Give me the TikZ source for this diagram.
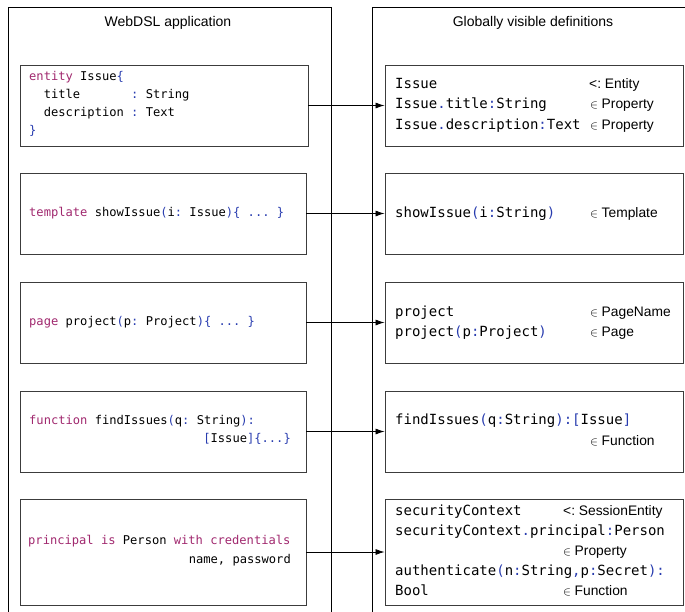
\documentclass[tikz,border=0pt]{standalone}
\usepackage{fontspec}
\setmainfont{Liberation Sans}
\newfontfamily\lmono{DejaVu Sans Mono}
\usetikzlibrary{arrows.meta}
\definecolor{kwc}{RGB}{160,40,110}
\definecolor{pnc}{RGB}{40,60,175}
\definecolor{boxc}{RGB}{60,60,60}
\newcommand{\kw}[1]{\textcolor{kwc}{#1}}
\newcommand{\pn}[1]{\textcolor{pnc}{#1}}
\newcommand{\elm}{{\fontsize{11.5}{11.5}\selectfont$\in$}\hspace{3.5pt}}
\newcommand{\msp}[1]{\hphantom{#1}}
\frenchspacing
\tikzset{
  frame/.style={draw=black, line width=0.8pt},
  box/.style={draw=boxc, line width=0.9pt, inner sep=0pt},
  lcode/.style={font=\lmono\fontsize{12.1}{14}\selectfont\frenchspacing, inner sep=0pt, anchor=base west},
  rcode/.style={font=\lmono\fontsize{14}{16}\selectfont, inner sep=0pt, anchor=base west},
  cat/.style={font=\fontsize{13.8}{16}\selectfont, inner sep=0pt, anchor=base west},
  ttl/.style={font=\fontsize{14}{16}\selectfont, inner sep=0pt, anchor=base},
  conn/.style={draw=black, line width=0.8pt, -{Latex[length=9pt,width=6pt]}}
}
\begin{document}
\begin{tikzpicture}[x=1pt,y=-1pt]
\useasboundingbox (0,0) rectangle (685,611);
\clip (0,0) rectangle (685,611);
% outer frames
\draw[frame] (8,615) -- (8,7) -- (331,7) -- (331,615);
\draw[frame] (690,7) -- (372,7) -- (372,615);
\node[ttl] (tl) at (168,26.5) {WebDSL application};
\node[ttl] (tr) at (533,26.5) {Globally visible definitions};
% left boxes
\node[box, minimum width=288, minimum height=81] (lb1) at (164,105.5) {};
\node[box, minimum width=286, minimum height=81] (lb2) at (163,213.5) {};
\node[box, minimum width=286, minimum height=81] (lb3) at (163,322.5) {};
\node[box, minimum width=286, minimum height=81] (lb4) at (163,431.5) {};
\node[box, minimum width=286, minimum height=106] (lb5) at (163,552) {};
% right boxes
\node[box, minimum width=298, minimum height=81] (rb1) at (534,105.5) {};
\node[box, minimum width=298, minimum height=81] (rb2) at (534,213.5) {};
\node[box, minimum width=298, minimum height=81] (rb3) at (534,322.5) {};
\node[box, minimum width=298, minimum height=81] (rb4) at (534,431.5) {};
\node[box, minimum width=298, minimum height=106] (rb5) at (534,552) {};
% left code
\node[lcode] (t11) at (29,80) {\kw{entity} Issue\pn{\{}};
\node[lcode] (t12) at (29,98) {\msp{xx}title\msp{xxxxxxx}\pn{:} String};
\node[lcode] (t13) at (29,116) {\msp{xx}description \pn{:} Text};
\node[lcode] (t14) at (29,134) {\pn{\}}};
\node[lcode] (t2) at (29,216) {\kw{template} showIssue\pn{(}i\pn{:} Issue\pn{)\{ ... \}}};
\node[lcode] (t3) at (29,325) {\kw{page} project\pn{(}p\pn{:} Project\pn{)\{ ... \}}};
\node[lcode] (t41) at (29,424) {\kw{function} findIssues\pn{(}q\pn{:} String\pn{):}};
\node[lcode, anchor=base east] (t42) at (291,442) {\pn{[}Issue\pn{]\{...\}}};
\node[lcode] (t51) at (28,544) {\kw{principal is} Person \kw{with credentials}};
\node[lcode, anchor=base east] (t52) at (291,563) {name, password};
% right code
\node[rcode] (r11) at (395,88) {Issue};
\node[cat] (c11) at (589,88) {<: Entity};
\node[rcode] (r12) at (395,108.5) {Issue\pn{.}title\pn{:}String};
\node[cat] (c12) at (590,108.5) {\elm Property};
\node[rcode] (r13) at (395,129) {Issue\pn{.}description\pn{:}Text};
\node[cat] (c13) at (590,129) {\elm Property};
\node[rcode] (r2) at (395,217) {showIssue\pn{(}i\pn{:}String\pn{)}};
\node[cat] (c2) at (590,217) {\elm Template};
\node[rcode] (r31) at (395,316) {project};
\node[cat] (c31) at (590,316) {\elm PageName};
\node[rcode] (r32) at (395,336) {project\pn{(}p\pn{:}Project\pn{)}};
\node[cat] (c32) at (590,336) {\elm Page};
\node[rcode] (r41) at (395,424) {findIssues\pn{(}q\pn{:}String\pn{):[}Issue\pn{]}};
\node[cat] (c42) at (590,445) {\elm Function};
\node[rcode] (r51) at (395,515) {securityContext};
\node[cat] (c51) at (563,515) {<: SessionEntity};
\node[rcode] (r52) at (395,535) {securityContext\pn{.}principal\pn{:}Person};
\node[cat] (c53) at (563,555) {\elm Property};
\node[rcode] (r54) at (395,575) {authenticate\pn{(}n\pn{:}String\pn{,}p\pn{:}Secret\pn{):}};
\node[rcode] (r55) at (395,595) {Bool};
\node[cat] (c55) at (563,595) {\elm Function};
% connectors
\draw[conn] (lb1.east) -- (rb1.west);
\draw[conn] (lb2.east) -- (rb2.west);
\draw[conn] (lb3.east) -- (rb3.west);
\draw[conn] (lb4.east) -- (rb4.west);
\draw[conn] (lb5.east) -- (rb5.west);
\end{tikzpicture}
\end{document}
